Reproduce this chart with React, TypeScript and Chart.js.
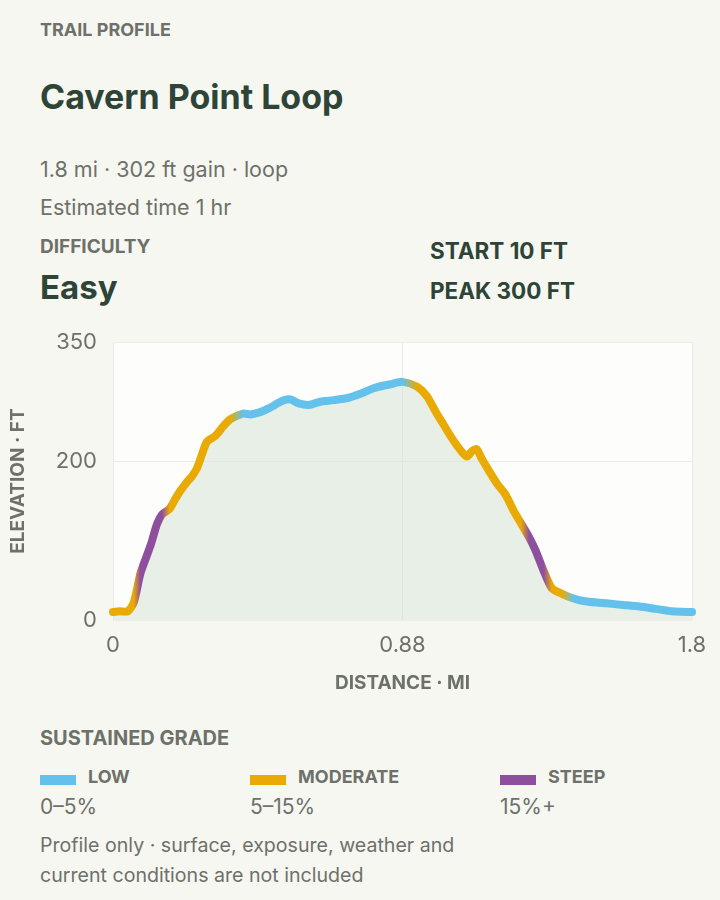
import { useEffect, useRef } from 'react'
import { Chart, registerables } from 'chart.js'

Chart.register(...registerables)

// profile samples (miles, feet)
const distanceMi = [
  0, 0.02, 0.045, 0.063, 0.083, 0.1, 0.115, 0.134, 0.149, 0.172, 0.19, 0.205, 0.225, 0.24, 0.255,
  0.27, 0.286, 0.311, 0.335, 0.357, 0.395, 0.417, 0.44, 0.46, 0.48, 0.5, 0.52, 0.539, 0.564, 0.595,
  0.63, 0.671, 0.716, 0.752, 0.792, 0.843, 0.88, 0.924, 0.954, 0.98, 1.005, 1.035, 1.06, 1.076,
  1.092, 1.106, 1.12, 1.137, 1.167, 1.193, 1.22, 1.24, 1.265, 1.284, 1.309, 1.334, 1.365, 1.4,
  1.43, 1.47, 1.5, 1.55, 1.6, 1.65, 1.7, 1.76,
]
const elevationFt = [
  10, 11, 11, 22, 58, 78, 95, 121, 133, 140, 153, 163, 174, 181, 191,
  208, 225, 232, 244, 253, 260, 259, 261, 264, 268, 273, 277, 278, 273, 271,
  275, 277, 280, 285, 292, 297, 300, 294, 282, 263, 246, 226, 212, 206,
  213, 215, 204, 192, 172, 158, 136, 122, 104, 88, 62, 40, 33, 27,
  24, 22, 21, 19, 17, 14, 11, 10,
]
// sustained grade class at each sample
const gradeClass = [
  'moderate', 'moderate', 'moderate', 'moderate', 'steep', 'steep', 'steep', 'steep', 'steep',
  'moderate', 'moderate', 'moderate', 'moderate', 'moderate', 'moderate', 'moderate', 'moderate',
  'moderate', 'moderate', 'moderate', 'low', 'low', 'low', 'low', 'low', 'low', 'low', 'low', 'low',
  'low', 'low', 'low', 'low', 'low', 'low', 'low', 'low', 'moderate', 'moderate', 'moderate',
  'moderate', 'moderate', 'moderate', 'moderate', 'moderate', 'moderate', 'moderate', 'moderate',
  'moderate', 'moderate', 'moderate', 'moderate', 'steep', 'steep', 'steep', 'moderate', 'moderate',
  'low', 'low', 'low', 'low', 'low', 'low', 'low', 'low', 'low',
]

const distanceTicks = [0, 0.88, 1.76]
const elevationTicks = [0, 200, 350]

const gradeColors: Record<string, string> = {
  low: '#63c1ec',
  moderate: '#e9ab03',
  steep: '#8f4f9f',
}
const legendItems = [
  { key: 'low', label: 'LOW', range: '0–5%' },
  { key: 'moderate', label: 'MODERATE', range: '5–15%' },
  { key: 'steep', label: 'STEEP', range: '15%+' },
]

const GRAY = '#6d7169'
const DARK = '#2e4437'
const FONT = 'Inter, "Noto Sans", sans-serif'

const plotBackground = {
  id: 'plotBackground',
  beforeDraw(chart: Chart) {
    const { ctx, chartArea } = chart
    if (!chartArea) return
    ctx.save()
    ctx.fillStyle = '#fdfdfb'
    ctx.fillRect(chartArea.left, chartArea.top, chartArea.width, chartArea.height)
    ctx.restore()
  },
}

function gradeGradient(chart: Chart) {
  const { ctx, chartArea, scales } = chart
  if (!chartArea || !scales.x) return gradeColors.low
  const g = ctx.createLinearGradient(chartArea.left, 0, chartArea.right, 0)
  distanceMi.forEach((d, i) => {
    const t = (scales.x.getPixelForValue(d) - chartArea.left) / chartArea.width
    g.addColorStop(Math.min(1, Math.max(0, t)), gradeColors[gradeClass[i]])
  })
  return g
}

function ProfileChart() {
  const canvasRef = useRef<HTMLCanvasElement>(null)

  useEffect(() => {
    if (!canvasRef.current) return
    const chart = new Chart(canvasRef.current, {
      type: 'line',
      data: {
        datasets: [{
          data: distanceMi.map((d, i) => ({ x: d, y: elevationFt[i] })),
          borderColor: (c: any) => gradeGradient(c.chart),
          backgroundColor: 'rgba(214, 228, 214, 0.55)',
          fill: 'origin',
          borderWidth: 8,
          borderCapStyle: 'round',
          borderJoinStyle: 'round',
          pointRadius: 0,
          tension: 0.25,
          clip: false,
        }],
      },
      options: {
        responsive: true,
        maintainAspectRatio: false,
        animation: false,
        layout: { padding: { top: 0, right: 28, bottom: 0, left: 0 } },
        plugins: { legend: { display: false }, tooltip: { enabled: false } },
        scales: {
          x: {
            type: 'linear',
            min: 0,
            max: 1.76,
            afterFit: (s: any) => { s.height = 80 },
            afterBuildTicks: (s: any) => { s.ticks = distanceTicks.map(v => ({ value: v })) },
            grid: { color: '#ebebe7', drawTicks: false },
            border: { display: false },
            ticks: {
              color: GRAY,
              padding: 12,
              font: { family: FONT, size: 22 },
              callback: (v: any) => String(Number(Number(v).toPrecision(2))),
            },
            title: {
              display: true,
              text: 'DISTANCE · MI',
              color: GRAY,
              font: { family: FONT, size: 19, weight: 'bold' },
              padding: { top: 0, bottom: 5 },
            },
          },
          y: {
            min: 0,
            max: 350,
            afterFit: (s: any) => { s.width = 113 },
            afterBuildTicks: (s: any) => { s.ticks = elevationTicks.map(v => ({ value: v })) },
            grid: { color: '#ebebe7', drawTicks: false },
            border: { display: false },
            ticks: {
              color: GRAY,
              padding: 16,
              font: { family: FONT, size: 22 },
            },
            title: {
              display: true,
              text: 'ELEVATION · FT',
              color: GRAY,
              font: { family: FONT, size: 19, weight: 'bold' },
              padding: { top: 7, bottom: 0 },
            },
          },
        },
      },
      plugins: [plotBackground],
    })
    return () => chart.destroy()
  }, [])

  return (
    <div style={{ position: 'absolute', left: 0, top: 313, width: 720, height: 387 }}>
      <canvas ref={canvasRef} />
    </div>
  )
}

function Text({ top, left = 40, size, weight = 400, color = GRAY, lh, children }: any) {
  return (
    <div style={{
      position: 'absolute', top, left, fontSize: size, fontWeight: weight, color,
      lineHeight: `${lh}px`, whiteSpace: 'nowrap',
    }}>
      {children}
    </div>
  )
}

export default function App() {
  useEffect(() => {
    document.body.style.margin = '0'
    document.body.style.background = '#f7f7f2'
  }, [])

  return (
    <div style={{ position: 'relative', width: 720, height: 900, background: '#f7f7f2', fontFamily: FONT, overflow: 'hidden' }}>
      <Text top={19} size={18} weight={700} lh={22}>TRAIL PROFILE</Text>
      <Text top={77} size={34} weight={700} color={DARK} lh={40}>Cavern Point Loop</Text>
      <Text top={155} size={21.5} lh={28}>1.8 mi · 302 ft gain · loop</Text>
      <Text top={193} size={21.5} lh={28}>Estimated time 1 hr</Text>
      <Text top={235} size={19} weight={700} lh={24}>DIFFICULTY</Text>
      <Text top={267} size={33} weight={700} color={DARK} lh={40}>Easy</Text>
      <Text top={238} left={430} size={22.5} weight={700} color={DARK} lh={26}>START 10 FT</Text>
      <Text top={278} left={430} size={22.5} weight={700} color={DARK} lh={26}>PEAK 300 FT</Text>

      <ProfileChart />

      <Text top={725} size={20} weight={700} lh={26}>SUSTAINED GRADE</Text>
      {legendItems.map((item, i) => {
        const left = [40, 250, 500][i]
        return (
          <div key={item.key}>
            <div style={{ position: 'absolute', left, top: 775, width: 36, height: 10, background: gradeColors[item.key] }} />
            <Text top={765} left={left + 48} size={18} weight={700} lh={24}>{item.label}</Text>
            <Text top={793} left={left} size={21} lh={28}>{item.range}</Text>
          </div>
        )
      })}
      <Text top={830} size={19.6} lh={30}>
        Profile only · surface, exposure, weather and<br />current conditions are not included
      </Text>
    </div>
  )
}
